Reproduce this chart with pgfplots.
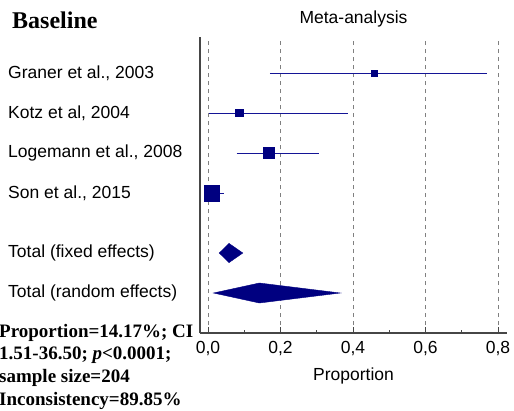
\documentclass[border=0pt]{standalone}
\usepackage{pgfplots}
\pgfplotsset{compat=1.18}
\usepackage{fontspec}
\setmainfont{Liberation Sans}
\newfontfamily\tnr{Liberation Serif}
\definecolor{navy}{RGB}{0,0,128}
\definecolor{ciline}{RGB}{20,20,150}
\begin{document}
\fontsize{17.5}{21}\selectfont
\begin{tikzpicture}
\path[use as bounding box] (0,0) rectangle (514pt,-410pt);
\begin{axis}[
 at={(200pt,-333pt)}, anchor=south west,
 scale only axis, width=307pt, height=296pt,
 xmin=-0.0221, xmax=0.8248, ymin=-0.5, ymax=6.9,
 axis x line=bottom, axis y line=left,
 axis line style={-, line width=1.1pt, gray!55!black},
 xtick={0,0.2,0.4,0.6,0.8},
 xticklabels={{0,0},{0,2},{0,4},{0,6},{0,8}},
 minor xtick={0.1,0.3,0.5,0.7},
 tick align=inside, major tick length=6pt, minor tick length=3.5pt,
 x tick style={gray!55!black, line width=1pt},
 xmajorgrids,
 major grid style={gray, dash pattern=on 4pt off 4pt, line width=0.8pt},
 ytick={0.5,1.5,3,4,5,6},
 yticklabels={{Total (random effects)},{Total (fixed effects)},{Son et al., 2015},{Logemann et al., 2008},{Kotz et al, 2004},{Graner et al., 2003}},
 y tick style={draw=none},
 yticklabel style={anchor=west, inner sep=0pt, xshift=-192pt},
 xticklabel style={yshift=-2pt},
 /pgf/number format/assume math mode=true,
 title={Meta-analysis}, title style={yshift=-2pt},
 xlabel={Proportion},
 clip=false,
]
% Graner et al., 2003
\addplot[ciline, line width=1pt] coordinates {(0.171,6)(0.770,6)};
\addplot[navy, only marks, mark=square*, mark size=3.3pt] coordinates {(0.458,6)};
% Kotz et al, 2004
\addplot[ciline, line width=1pt] coordinates {(0.003,5)(0.387,5)};
\addplot[navy, only marks, mark=square*, mark size=3.6pt] coordinates {(0.086,5)};
% Logemann et al., 2008
\addplot[ciline, line width=1pt] coordinates {(0.079,4)(0.307,4)};
\addplot[navy, only marks, mark=square*, mark size=5.5pt] coordinates {(0.168,4)};
% Son et al., 2015
\addplot[ciline, line width=1pt] coordinates {(0.0,3)(0.044,3)};
\addplot[navy, only marks, mark=square*, mark size=7.8pt] coordinates {(0.010,3)};
% Total (fixed effects)
\addplot[navy, fill=navy] coordinates {(0.031,1.5)(0.058,1.74)(0.096,1.5)(0.058,1.26)} -- cycle;
% Total (random effects)
\addplot[navy, fill=navy] coordinates {(0.0151,0.5)(0.1417,0.75)(0.365,0.5)(0.1417,0.25)} -- cycle;
\end{axis}
\node[anchor=base west, inner sep=0pt, font=\tnr\bfseries\fontsize{24}{28}\selectfont] at (12pt,-28pt) {Baseline};
\begin{scope}[every node/.style={anchor=base west, inner sep=0pt, font=\tnr\bfseries\fontsize{19}{22.7}\selectfont}]
\node at (-1pt,-337pt) {Proportion=14.17\%; CI};
\node at (-1pt,-359.7pt) {1.51-36.50; \textit{p}<0.0001;};
\node at (-1pt,-382.3pt) {sample size=204};
\node at (-1pt,-405pt) {Inconsistency=89.85\%};
\end{scope}
\end{tikzpicture}
\end{document}
